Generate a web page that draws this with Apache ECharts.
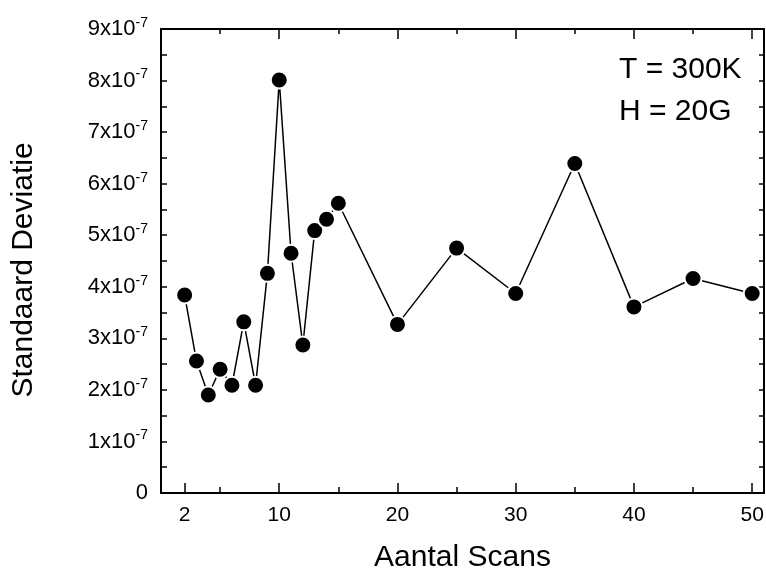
<!DOCTYPE html>
<html>
<head>
<meta charset="utf-8">
<title>Standaard Deviatie vs Aantal Scans</title>
<script src="https://cdn.jsdelivr.net/npm/echarts@6.0.0/dist/echarts.min.js"></script>
<style>
  html, body { margin: 0; padding: 0; background: #fff; }
  #chart { width: 766px; height: 570px; }
</style>
</head>
<body>
<div id="chart"></div>
<script>
// Number of scans averaged
const scans = [2, 3, 4, 5, 6, 7, 8, 9, 10, 11, 12, 13, 14, 15, 20, 25, 30, 35, 40, 45, 50];
// Standard deviation of the signal for each scan count
const stdDev = [
  3.84e-7, 2.56e-7, 1.90e-7, 2.40e-7, 2.09e-7, 3.32e-7, 2.09e-7, 4.26e-7,
  8.01e-7, 4.65e-7, 2.87e-7, 5.09e-7, 5.31e-7, 5.62e-7, 3.27e-7, 4.75e-7,
  3.87e-7, 6.39e-7, 3.61e-7, 4.16e-7, 3.87e-7
];
// Axis tick positions and labels
const xLabelValues = [2, 10, 20, 30, 40, 50];
const xMajorTop = [10, 20, 30, 40, 50];
const xMinorTicks = [5, 15, 25, 35, 45];
const yTicks = [
  0, 0.5e-7, 1e-7, 1.5e-7, 2e-7, 2.5e-7, 3e-7, 3.5e-7, 4e-7,
  4.5e-7, 5e-7, 5.5e-7, 6e-7, 6.5e-7, 7e-7, 7.5e-7, 8e-7, 8.5e-7, 9e-7
];
const conditions = ['T = 300K', 'H = 20G'];

const FONT = "'Liberation Sans', Arial, Helvetica, sans-serif";
const INK = '#000';

const chart = echarts.init(document.getElementById('chart'), null, { renderer: 'canvas' });

function sciLabel(v) {
  const n = Math.round(v * 1e7);
  return n === 0 ? '{m|0}' : '{m|' + n + 'x10}{s|-7}';
}

const tickLine = { color: INK, width: 1.5 };
const xBase = { type: 'value', min: 0, max: 51, gridIndex: 0, splitLine: { show: false } };

chart.setOption({
  animation: false,
  backgroundColor: '#fff',
  grid: {
    left: 161, top: 29, width: 603, height: 464,
    containLabel: false,
    outerBoundsMode: 'none'
  },
  xAxis: [
    Object.assign({}, xBase, {
      position: 'bottom',
      name: 'Aantal Scans',
      nameLocation: 'middle',
      nameGap: 50,
      nameTextStyle: { fontFamily: FONT, fontSize: 30, color: INK },
      axisLine: { show: true, onZero: false, lineStyle: { color: INK, width: 2 } },
      axisTick: { show: true, inside: true, length: 10, customValues: xLabelValues, lineStyle: tickLine },
      axisLabel: { show: true, customValues: xLabelValues, margin: 12, fontFamily: FONT, fontSize: 21, color: INK }
    }),
    Object.assign({}, xBase, {
      position: 'bottom',
      axisLine: { show: false, onZero: false },
      axisTick: { show: true, inside: true, length: 6, customValues: xMinorTicks, lineStyle: tickLine },
      axisLabel: { show: false }
    }),
    Object.assign({}, xBase, {
      position: 'top',
      axisLine: { show: true, onZero: false, lineStyle: { color: INK, width: 2 } },
      axisTick: { show: true, inside: true, length: 10, customValues: xMajorTop, lineStyle: tickLine },
      axisLabel: { show: false }
    }),
    Object.assign({}, xBase, {
      position: 'top',
      axisLine: { show: false, onZero: false },
      axisTick: { show: true, inside: true, length: 5, customValues: xMinorTicks, lineStyle: tickLine },
      axisLabel: { show: false }
    })
  ],
  yAxis: [
    {
      type: 'value', min: 0, max: 9e-7, interval: 1e-7, position: 'left',
      name: 'Standaard Deviatie',
      nameLocation: 'middle',
      nameGap: 122,
      nameTextStyle: { fontFamily: FONT, fontSize: 30, color: INK, padding: [0, 18, 0, 0] },
      splitLine: { show: false },
      axisLine: { show: true, onZero: false, lineStyle: { color: INK, width: 2 } },
      axisTick: { show: true, inside: true, length: 6, customValues: yTicks, lineStyle: tickLine },
      axisLabel: {
        margin: 13,
        fontSize: 22,
        fontFamily: FONT,
        color: INK,
        formatter: sciLabel,
        rich: {
          m: { fontFamily: FONT, fontSize: 22, color: INK },
          s: { fontFamily: FONT, fontSize: 14, color: INK, padding: [0, 0, 12, 0] }
        }
      }
    },
    {
      type: 'value', min: 0, max: 9e-7, interval: 1e-7, position: 'right',
      splitLine: { show: false },
      axisLine: { show: true, onZero: false, lineStyle: { color: INK, width: 2 } },
      axisTick: { show: true, inside: true, length: 5, customValues: yTicks, lineStyle: tickLine },
      axisLabel: { show: false }
    }
  ],
  graphic: conditions.map((t, i) => ({
    type: 'text',
    left: 619,
    top: 55 + i * 41.5,
    style: { text: t, fontFamily: FONT, fontSize: 30, fill: INK }
  })),
  series: [
    {
      type: 'line',
      xAxisIndex: 0,
      yAxisIndex: 0,
      data: scans.map((s, i) => [s, stdDev[i]]),
      symbol: 'circle',
      symbolSize: 17,
      showAllSymbol: true,
      lineStyle: { color: INK, width: 1.5 },
      itemStyle: { color: INK, borderColor: '#fff', borderWidth: 2 },
      emphasis: { disabled: true }
    }
  ]
});
</script>
</body>
</html>
